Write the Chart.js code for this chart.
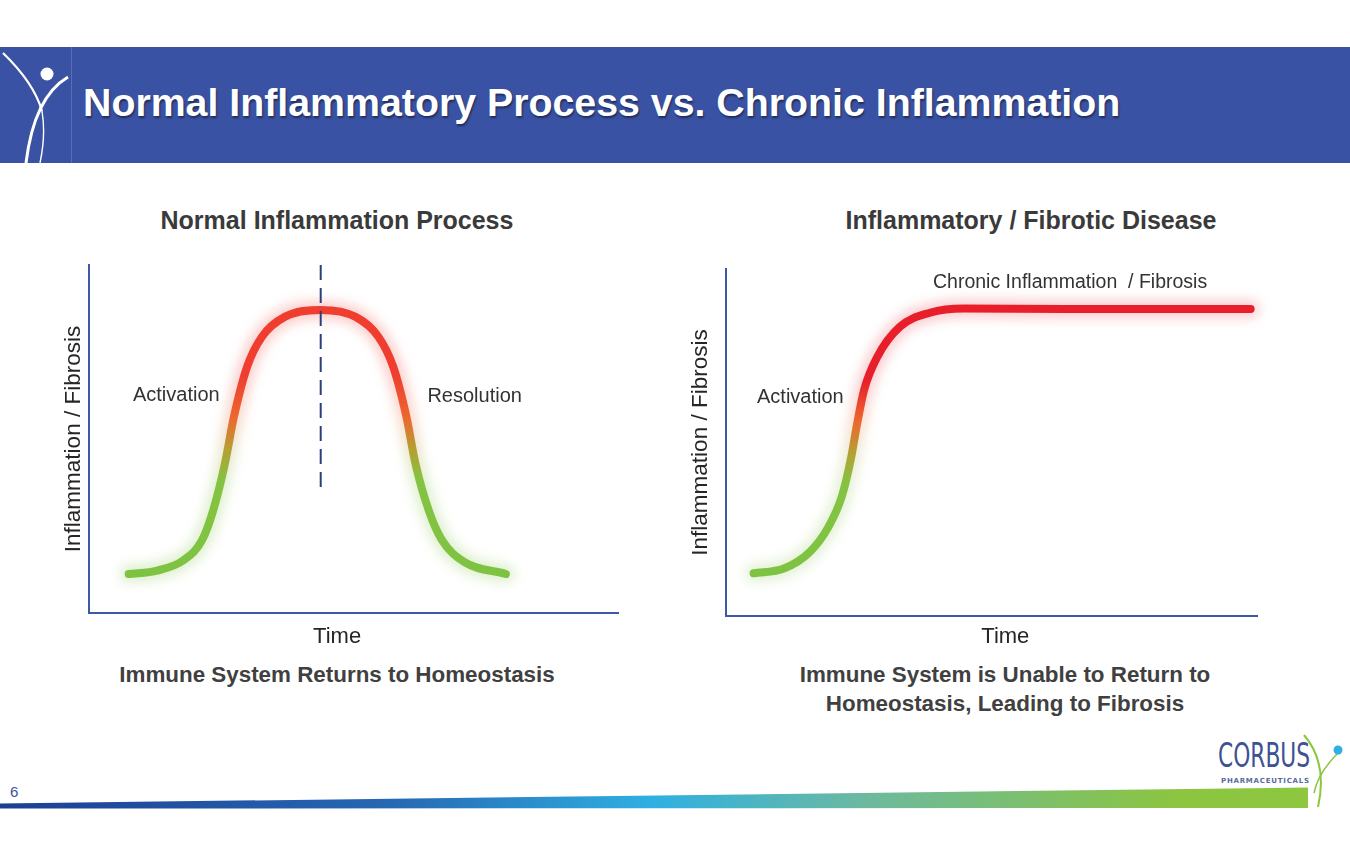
<!DOCTYPE html>
<html>
<head>
<meta charset="utf-8">
<script src="https://cdn.jsdelivr.net/npm/chart.js@4.4.1/dist/chart.umd.min.js"></script>
<style>
  html, body { margin: 0; padding: 0; background: #fff; }
  body { width: 1350px; height: 855px; position: relative; overflow: hidden; font-family: "Liberation Sans", Arial, sans-serif; }
  .abs { position: absolute; }
  #header { left: 0; top: 47px; width: 1350px; height: 116px; background: #3a52a3; }
  #logoBox { left: 0; top: 0; width: 71px; height: 116px; border-right: 1px solid #5a6fb3; }
  #title { left: 83px; top: 80px; color: #fff; font-weight: bold; font-size: 39.3px; white-space: nowrap; text-shadow: 1px 2px 2px rgba(0,0,0,0.45); }
  .head { font-weight: bold; font-size: 25px; color: #3a3a3a; text-align: center; white-space: nowrap; }
  .sub { font-weight: bold; font-size: 22.4px; color: #404040; text-align: center; line-height: 29px; white-space: nowrap; }
  canvas { position: absolute; }
</style>
</head>
<body>
<div id="header" class="abs">
  <div id="logoBox" class="abs">
    <svg width="71" height="116" viewBox="0 0 71 116">
      <circle cx="47" cy="27" r="6.5" fill="#fff"/>
      <path d="M3,6 Q34,36 42,64" stroke="#fff" stroke-width="2.2" fill="none"/>
      <path d="M68,30 Q34,50 26,116" stroke="#fff" stroke-width="3" fill="none"/>
      <path d="M42,64 Q46,88 40,116" stroke="#fff" stroke-width="1.4" fill="none"/>
    </svg>
  </div>
</div>
<div id="title" class="abs">Normal Inflammatory Process vs. Chronic Inflammation</div>

<div class="abs head" style="left:137px; top:206px; width:400px;">Normal Inflammation Process</div>
<div class="abs head" style="left:831px; top:206px; width:400px;">Inflammatory / Fibrotic Disease</div>
<div class="abs sub" style="left:87px; top:660px; width:500px;">Immune System Returns to Homeostasis</div>
<div class="abs sub" style="left:755px; top:660px; width:500px;">Immune System is Unable to Return to<br>Homeostasis, Leading to Fibrosis</div>

<canvas id="normalChart" style="left:40px; top:240px;" width="600" height="420"></canvas>
<canvas id="chronicChart" style="left:670px; top:240px;" width="610" height="420"></canvas>

<div class="abs" style="left:10px; top:783px; font-size:15px; color:#3a52a3;">6</div>
<svg class="abs" style="left:0; top:780px;" width="1350" height="40">
  <defs>
    <linearGradient id="strip" x1="0" x2="1" y1="0" y2="0">
      <stop offset="0" stop-color="#1c3f94"/>
      <stop offset="0.3" stop-color="#2668b3"/>
      <stop offset="0.5" stop-color="#2fb0e2"/>
      <stop offset="0.66" stop-color="#6cb9a0"/>
      <stop offset="0.9" stop-color="#8cc540"/>
      <stop offset="1" stop-color="#8dc63f"/>
    </linearGradient>
  </defs>
  <polygon points="0,23.5 1308,7.5 1308,28 0,28.5" fill="url(#strip)"/>
</svg>
<svg class="abs" style="left:1210px; top:733px;" width="140" height="80">
  <text x="8" y="40" font-family="'Liberation Sans Narrow', 'DejaVu Sans Condensed', sans-serif" font-size="40" fill="#3d5194" textLength="92" lengthAdjust="spacingAndGlyphs" transform="scale(1,0.85)" style="transform-origin:0 0">CORBUS</text>
  <text x="11" y="50" font-family="'DejaVu Sans', sans-serif" font-size="7" font-weight="bold" fill="#5a6aa0" textLength="88" lengthAdjust="spacing">PHARMACEUTICALS</text>
  <path d="M94,2 Q118,30 108,74" stroke="#8dc63f" stroke-width="2" fill="none"/>
  <path d="M128,20 Q108,40 104,60" stroke="#8dc63f" stroke-width="1.5" fill="none"/>
  <circle cx="128" cy="17" r="4.5" fill="#2fb0e2"/>
</svg>

<script>
// Normal inflammation process: time vs inflammation level (0-100 scale)
const normalTime  = [7.5, 12.9, 17.9, 21.4, 23.5, 25.7, 27.4, 29.9, 32.7, 37.0, 43.8, 50.4, 54.7, 57.5, 60.0, 61.7, 64.2, 66.7, 70.9, 78.8];
const normalLevel = [11.2, 12.2, 15.2, 21.0, 29.6, 43.0, 56.4, 70.8, 79.4, 85.1, 87.1, 85.1, 79.4, 70.8, 56.4, 43.0, 29.6, 21.0, 14.7, 11.2];
// Peak marker (dashed)
const peakTime  = [43.8, 43.8];
const peakLevel = [100, 35.3];
// Chronic inflammation / fibrosis
const chronicTime  = [5.2, 10.9, 15.8, 19.3, 21.8, 23.6, 24.6, 26.0, 28.5, 32.8, 38.4, 44.8, 63.8, 98.8];
const chronicLevel = [12.3, 13.7, 18.5, 25.7, 34.4, 45.9, 54.6, 65.1, 74.7, 83.4, 87.4, 88.6, 88.5, 88.5];

const yAxisTitle = 'Inflammation / Fibrosis';
const xAxisTitle = 'Time';

const toPoints = (xs, ys) => xs.map((x, i) => ({x: x, y: ys[i]}));

function curveGradient(topColor, alpha) {
  return (context) => {
    const chart = context.chart;
    const {ctx, chartArea, scales} = chart;
    if (!chartArea) return topColor;
    const y = scales.y;
    const g = ctx.createLinearGradient(0, y.getPixelForValue(0), 0, y.getPixelForValue(100));
    const a = alpha;
    g.addColorStop(0, `rgba(124,194,66,${a})`);
    g.addColorStop(0.38, `rgba(132,195,65,${a})`);
    g.addColorStop(0.47, `rgba(180,160,52,${a})`);
    g.addColorStop(0.56, `rgba(236,104,46,${a})`);
    g.addColorStop(0.68, `rgba(${topColor},${a})`);
    g.addColorStop(1, `rgba(${topColor},${a})`);
    return g;
  };
}

const glowPlugin = {
  id: 'glow',
  beforeDatasetDraw(chart, args) {
    const ds = chart.data.datasets[args.index];
    if (ds.glow) {
      chart.ctx.save();
      chart.ctx.filter = 'blur(' + ds.glow + 'px)';
    }
  },
  afterDatasetDraw(chart, args) {
    if (chart.data.datasets[args.index].glow) chart.ctx.restore();
  },
};

function labelPlugin(items) {
  return {
    id: 'sketchLabels',
    afterDraw(chart) {
      const {ctx, scales: {x, y}} = chart;
      items.forEach((it) => {
        ctx.save();
        ctx.font = it.font;
        ctx.fillStyle = it.color;
        ctx.textAlign = 'center';
        ctx.textBaseline = 'middle';
        ctx.fillText(it.text, x.getPixelForValue(it.x), y.getPixelForValue(it.y));
        ctx.restore();
      });
    },
  };
}

function axisOptions(titlePadBottom) {
  return {
    x: {
      type: 'linear', min: 0, max: 100,
      grid: { display: false, drawTicks: false },
      ticks: { display: false },
      border: { display: true, color: '#3e58a8', width: 2 },
    },
    y: {
      type: 'linear', min: 0, max: 100,
      grid: { display: false, drawTicks: false },
      ticks: { display: false },
      border: { display: true, color: '#3e58a8', width: 2 },
      title: {
        display: true,
        text: yAxisTitle,
        color: '#262626',
        font: { family: '"Liberation Sans", Arial, sans-serif', size: 22.5, lineHeight: 1.2 },
        padding: { top: 4, bottom: titlePadBottom },
      },
    },
  };
}

function baseOptions(padding, titlePadBottom) {
  return {
    responsive: false,
    animation: false,
    devicePixelRatio: 1,
    layout: { padding: padding },
    plugins: { legend: { display: false }, tooltip: { enabled: false } },
    elements: { point: { radius: 0 } },
    scales: axisOptions(titlePadBottom),
  };
}

const labelFont = '20px "Liberation Sans", Arial, sans-serif';
const chronicFont = '19.5px "Liberation Sans", Arial, sans-serif';
const timeFont = '22px "Liberation Sans", Arial, sans-serif';

new Chart(document.getElementById('normalChart'), {
  type: 'line',
  data: {
    datasets: [
      {
        data: toPoints(peakTime, peakLevel),
        borderColor: '#2b3f7e', borderWidth: 2, borderDash: [15, 8], clip: false,
      },
      {
        data: toPoints(normalTime, normalLevel),
        borderColor: curveGradient('239,62,48', 1), borderWidth: 8,
        cubicInterpolationMode: 'monotone', borderCapStyle: 'round', clip: false,
      },
      {
        data: toPoints(normalTime, normalLevel),
        borderColor: curveGradient('239,62,48', 0.25), borderWidth: 18, glow: 6,
        cubicInterpolationMode: 'monotone', borderCapStyle: 'round', clip: false,
      },
    ],
  },
  options: baseOptions({ left: 16, top: 25, right: 22, bottom: 47 }, 2),
  plugins: [glowPlugin, labelPlugin([
    { text: 'Activation', x: 16.5, y: 62.4, font: labelFont, color: '#333' },
    { text: 'Resolution', x: 72.9, y: 62.1, font: labelFont, color: '#333' },
    { text: xAxisTitle, x: 46.9, y: -6.9, font: timeFont, color: '#262626' },
  ])],
});

new Chart(document.getElementById('chronicChart'), {
  type: 'line',
  data: {
    datasets: [
      {
        data: toPoints(chronicTime, chronicLevel),
        borderColor: curveGradient('232,30,42', 1), borderWidth: 8,
        cubicInterpolationMode: 'monotone', borderCapStyle: 'round', clip: false,
      },
      {
        data: toPoints(chronicTime, chronicLevel),
        borderColor: curveGradient('232,30,42', 0.22), borderWidth: 18, glow: 6,
        cubicInterpolationMode: 'monotone', borderCapStyle: 'round', clip: false,
      },
    ],
  },
  options: baseOptions({ left: 13, top: 29, right: 23, bottom: 44 }, 12),
  plugins: [glowPlugin, labelPlugin([
    { text: 'Activation', x: 14.0, y: 63.1, font: labelFont, color: '#333' },
    { text: 'Chronic Inflammation  / Fibrosis', x: 64.8, y: 96.0, font: chronicFont, color: '#333' },
    { text: xAxisTitle, x: 52.6, y: -6.05, font: timeFont, color: '#262626' },
  ])],
});
</script>
</body>
</html>
